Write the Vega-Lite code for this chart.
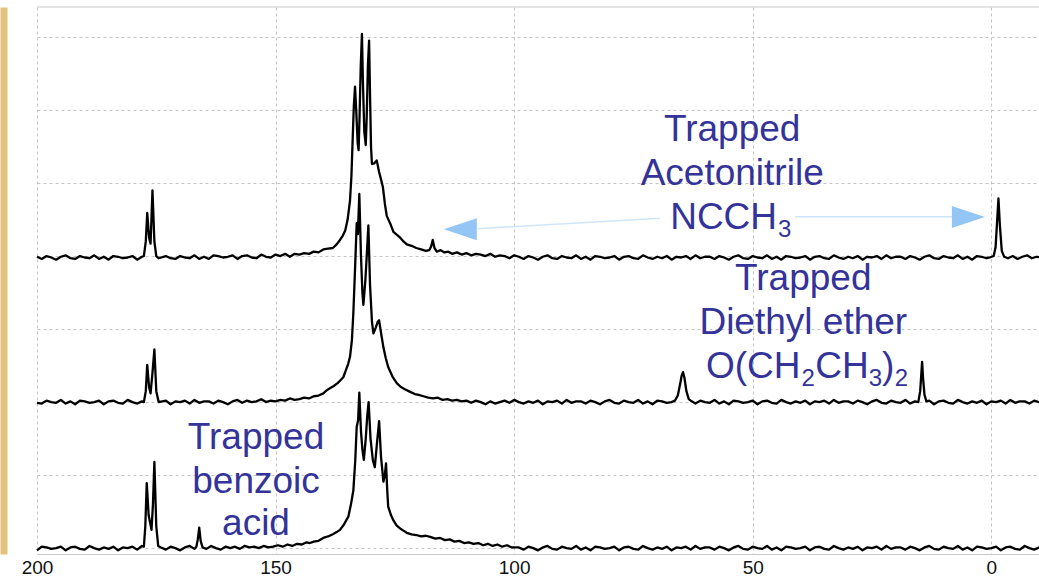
{
  "$schema": "https://vega.github.io/schema/vega-lite/v6.json",
  "width": 1002,
  "height": 547,
  "autosize": {"type": "none"},
  "padding": {"left": 37, "top": 7, "right": 0, "bottom": 23},
  "background": "white",
  "config": {"view": {"stroke": null}},
  "resolve": {"axis": {"y": "independent"}},
  "datasets": {
    "spec": [
      {"s":"T","ppm":200,"v":3.99},{"s":"T","ppm":199,"v":3.96},{"s":"T","ppm":198,"v":4.00},{"s":"T","ppm":197,"v":3.98},{"s":"T","ppm":196,"v":3.95},{"s":"T","ppm":195,"v":3.99},{"s":"T","ppm":194,"v":4.01},{"s":"T","ppm":193,"v":3.97},{"s":"T","ppm":192,"v":3.96},{"s":"T","ppm":191,"v":4.00},{"s":"T","ppm":190,"v":3.98},{"s":"T","ppm":189,"v":3.97},{"s":"T","ppm":188,"v":4.01},{"s":"T","ppm":187,"v":3.96},{"s":"T","ppm":186,"v":3.99},{"s":"T","ppm":185,"v":3.95},{"s":"T","ppm":184,"v":4.00},{"s":"T","ppm":183,"v":3.99},{"s":"T","ppm":182,"v":3.97},{"s":"T","ppm":181,"v":3.98},{"s":"T","ppm":180,"v":4.00},{"s":"T","ppm":179,"v":3.95},{"s":"T","ppm":178,"v":3.99},
      {"s":"T","ppm":177.6,"v":4.0},{"s":"T","ppm":177.2,"v":4.2},{"s":"T","ppm":176.9,"v":4.59},{"s":"T","ppm":176.5,"v":4.25},{"s":"T","ppm":176.2,"v":4.17},{"s":"T","ppm":175.8,"v":4.9},{"s":"T","ppm":175.4,"v":4.2},{"s":"T","ppm":175.0,"v":4.0},{"s":"T","ppm":174.5,"v":3.97},
      {"s":"T","ppm":173,"v":4.00},{"s":"T","ppm":172,"v":3.97},{"s":"T","ppm":171,"v":3.96},{"s":"T","ppm":170,"v":4.00},{"s":"T","ppm":169,"v":3.98},{"s":"T","ppm":168,"v":3.97},{"s":"T","ppm":167,"v":4.01},{"s":"T","ppm":166,"v":3.96},{"s":"T","ppm":165,"v":3.99},{"s":"T","ppm":164,"v":3.96},{"s":"T","ppm":163,"v":4.01},{"s":"T","ppm":162,"v":4.00},{"s":"T","ppm":161,"v":3.98},{"s":"T","ppm":160,"v":3.99},{"s":"T","ppm":159,"v":4.01},{"s":"T","ppm":158,"v":3.96},{"s":"T","ppm":157,"v":4.00},{"s":"T","ppm":156,"v":4.01},{"s":"T","ppm":155,"v":3.98},{"s":"T","ppm":154,"v":3.97},{"s":"T","ppm":153,"v":4.02},{"s":"T","ppm":152,"v":3.99},{"s":"T","ppm":151,"v":3.98},{"s":"T","ppm":150,"v":4.02},{"s":"T","ppm":149,"v":4.00},{"s":"T","ppm":148,"v":4.03},{"s":"T","ppm":147,"v":3.99},{"s":"T","ppm":146,"v":4.03},{"s":"T","ppm":145,"v":4.02},{"s":"T","ppm":144,"v":4.04},{"s":"T","ppm":143,"v":4.03},{"s":"T","ppm":142,"v":4.06},{"s":"T","ppm":141,"v":4.05},{"s":"T","ppm":140,"v":4.09},{"s":"T","ppm":139,"v":4.10},{"s":"T","ppm":138,"v":4.11},{"s":"T","ppm":137.2,"v":4.16},{"s":"T","ppm":136.5,"v":4.22},{"s":"T","ppm":135.9,"v":4.28},{"s":"T","ppm":135.4,"v":4.35},{"s":"T","ppm":134.9,"v":4.5},{"s":"T","ppm":134.4,"v":4.76},{"s":"T","ppm":134.1,"v":5.1},{"s":"T","ppm":133.8,"v":5.68},{"s":"T","ppm":133.6,"v":6.05},{"s":"T","ppm":133.35,"v":6.32},{"s":"T","ppm":133.1,"v":6.0},{"s":"T","ppm":132.8,"v":5.55},{"s":"T","ppm":132.6,"v":5.45},{"s":"T","ppm":132.4,"v":5.9},{"s":"T","ppm":132.15,"v":6.6},{"s":"T","ppm":131.9,"v":7.04},{"s":"T","ppm":131.7,"v":6.4},{"s":"T","ppm":131.4,"v":5.7},{"s":"T","ppm":131.1,"v":5.52},{"s":"T","ppm":130.9,"v":5.9},{"s":"T","ppm":130.65,"v":6.6},{"s":"T","ppm":130.4,"v":6.95},{"s":"T","ppm":130.2,"v":6.2},{"s":"T","ppm":130.0,"v":5.5},{"s":"T","ppm":129.8,"v":5.26},{"s":"T","ppm":129.3,"v":5.27},{"s":"T","ppm":128.8,"v":5.31},{"s":"T","ppm":128.3,"v":5.15},{"s":"T","ppm":127.9,"v":5.05},{"s":"T","ppm":127.5,"v":4.94},{"s":"T","ppm":127.1,"v":4.72},{"s":"T","ppm":126.7,"v":4.55},{"s":"T","ppm":126.0,"v":4.45},{"s":"T","ppm":125.3,"v":4.33},{"s":"T","ppm":124.0,"v":4.26},{"s":"T","ppm":123.2,"v":4.20},{"s":"T","ppm":122.5,"v":4.16},{"s":"T","ppm":121.5,"v":4.14},{"s":"T","ppm":120.5,"v":4.11},{"s":"T","ppm":119.5,"v":4.09},{"s":"T","ppm":118.5,"v":4.07},{"s":"T","ppm":117.8,"v":4.08},{"s":"T","ppm":117.4,"v":4.13},{"s":"T","ppm":117.06,"v":4.22},{"s":"T","ppm":116.7,"v":4.11},{"s":"T","ppm":116.2,"v":4.06},{"s":"T","ppm":115.4,"v":4.08},{"s":"T","ppm":114.6,"v":4.05},{"s":"T","ppm":113.8,"v":4.06},{"s":"T","ppm":113,"v":4.03},{"s":"T","ppm":112,"v":4.05},{"s":"T","ppm":111,"v":4.02},{"s":"T","ppm":110,"v":4.04},{"s":"T","ppm":109,"v":4.01},{"s":"T","ppm":108,"v":4.03},{"s":"T","ppm":107,"v":4.02},{"s":"T","ppm":106,"v":4.00},{"s":"T","ppm":105,"v":4.03},{"s":"T","ppm":104,"v":3.99},{"s":"T","ppm":103,"v":4.01},{"s":"T","ppm":102,"v":4.00},{"s":"T","ppm":101,"v":3.97},{"s":"T","ppm":100,"v":4.01},
      {"s":"T","ppm":99,"v":3.99},{"s":"T","ppm":98,"v":3.96},{"s":"T","ppm":97,"v":4.00},{"s":"T","ppm":96,"v":3.98},{"s":"T","ppm":95,"v":3.95},{"s":"T","ppm":94,"v":3.99},{"s":"T","ppm":93,"v":4.01},{"s":"T","ppm":92,"v":3.97},{"s":"T","ppm":91,"v":3.96},{"s":"T","ppm":90,"v":4.00},{"s":"T","ppm":89,"v":3.98},{"s":"T","ppm":88,"v":3.97},{"s":"T","ppm":87,"v":4.01},{"s":"T","ppm":86,"v":3.96},{"s":"T","ppm":85,"v":3.99},{"s":"T","ppm":84,"v":3.95},{"s":"T","ppm":83,"v":4.00},{"s":"T","ppm":82,"v":3.99},{"s":"T","ppm":81,"v":3.97},{"s":"T","ppm":80,"v":3.98},{"s":"T","ppm":79,"v":4.00},{"s":"T","ppm":78,"v":3.95},{"s":"T","ppm":77,"v":3.99},{"s":"T","ppm":76,"v":4.00},{"s":"T","ppm":75,"v":3.97},{"s":"T","ppm":74,"v":3.96},{"s":"T","ppm":73,"v":4.01},{"s":"T","ppm":72,"v":3.98},{"s":"T","ppm":71,"v":3.96},{"s":"T","ppm":70,"v":3.99},{"s":"T","ppm":69,"v":3.97},{"s":"T","ppm":68,"v":4.00},{"s":"T","ppm":67,"v":3.95},{"s":"T","ppm":66,"v":3.99},{"s":"T","ppm":65,"v":3.98},{"s":"T","ppm":64,"v":4.00},{"s":"T","ppm":63,"v":3.96},{"s":"T","ppm":62,"v":4.01},{"s":"T","ppm":61,"v":3.97},{"s":"T","ppm":60,"v":3.99},{"s":"T","ppm":59,"v":3.99},{"s":"T","ppm":58,"v":3.96},{"s":"T","ppm":57,"v":4.00},{"s":"T","ppm":56,"v":3.98},{"s":"T","ppm":55,"v":3.95},{"s":"T","ppm":54,"v":3.99},{"s":"T","ppm":53,"v":4.01},{"s":"T","ppm":52,"v":3.97},{"s":"T","ppm":51,"v":3.96},{"s":"T","ppm":50,"v":4.00},{"s":"T","ppm":49,"v":3.98},{"s":"T","ppm":48,"v":3.97},{"s":"T","ppm":47,"v":4.01},{"s":"T","ppm":46,"v":3.96},{"s":"T","ppm":45,"v":3.99},{"s":"T","ppm":44,"v":3.95},{"s":"T","ppm":43,"v":4.00},{"s":"T","ppm":42,"v":3.99},{"s":"T","ppm":41,"v":3.97},{"s":"T","ppm":40,"v":3.98},{"s":"T","ppm":39,"v":4.00},{"s":"T","ppm":38,"v":3.95},{"s":"T","ppm":37,"v":3.99},{"s":"T","ppm":36,"v":4.00},{"s":"T","ppm":35,"v":3.97},{"s":"T","ppm":34,"v":3.96},{"s":"T","ppm":33,"v":4.01},{"s":"T","ppm":32,"v":3.98},{"s":"T","ppm":31,"v":3.96},{"s":"T","ppm":30,"v":3.99},{"s":"T","ppm":29,"v":3.97},{"s":"T","ppm":28,"v":4.00},{"s":"T","ppm":27,"v":3.95},{"s":"T","ppm":26,"v":3.99},{"s":"T","ppm":25,"v":3.98},{"s":"T","ppm":24,"v":4.00},{"s":"T","ppm":23,"v":3.96},{"s":"T","ppm":22,"v":4.01},{"s":"T","ppm":21,"v":3.97},{"s":"T","ppm":20,"v":3.99},{"s":"T","ppm":19,"v":3.99},{"s":"T","ppm":18,"v":3.96},{"s":"T","ppm":17,"v":4.00},{"s":"T","ppm":16,"v":3.98},{"s":"T","ppm":15,"v":3.95},{"s":"T","ppm":14,"v":3.99},{"s":"T","ppm":13,"v":4.01},{"s":"T","ppm":12,"v":3.97},{"s":"T","ppm":11,"v":3.96},{"s":"T","ppm":10,"v":4.00},{"s":"T","ppm":9,"v":3.98},{"s":"T","ppm":8,"v":3.97},{"s":"T","ppm":7,"v":4.01},{"s":"T","ppm":6,"v":3.96},{"s":"T","ppm":5,"v":3.99},{"s":"T","ppm":4,"v":3.95},{"s":"T","ppm":3,"v":4.00},{"s":"T","ppm":2,"v":3.99},{"s":"T","ppm":1,"v":3.97},{"s":"T","ppm":0.3,"v":3.98},{"s":"T","ppm":-0.5,"v":4.00},{"s":"T","ppm":-0.9,"v":4.12},{"s":"T","ppm":-1.2,"v":4.45},{"s":"T","ppm":-1.5,"v":4.79},{"s":"T","ppm":-1.8,"v":4.42},{"s":"T","ppm":-2.2,"v":4.07},{"s":"T","ppm":-2.7,"v":3.99},{"s":"T","ppm":-3.5,"v":3.97},{"s":"T","ppm":-4.5,"v":4.00},{"s":"T","ppm":-5.5,"v":3.96},{"s":"T","ppm":-6.5,"v":3.99},{"s":"T","ppm":-7.5,"v":4.01},{"s":"T","ppm":-8.5,"v":3.97},{"s":"T","ppm":-9.5,"v":3.99},{"s":"T","ppm":-10.5,"v":3.98},

      {"s":"M","ppm":200,"v":1.99},{"s":"M","ppm":199,"v":1.98},{"s":"M","ppm":198,"v":2.02},{"s":"M","ppm":197,"v":2.00},{"s":"M","ppm":196,"v":1.99},{"s":"M","ppm":195,"v":2.03},{"s":"M","ppm":194,"v":1.98},{"s":"M","ppm":193,"v":2.01},{"s":"M","ppm":192,"v":1.97},{"s":"M","ppm":191,"v":2.02},{"s":"M","ppm":190,"v":2.01},{"s":"M","ppm":189,"v":1.99},{"s":"M","ppm":188,"v":2.00},{"s":"M","ppm":187,"v":2.02},{"s":"M","ppm":186,"v":1.97},{"s":"M","ppm":185,"v":2.01},{"s":"M","ppm":184,"v":2.02},{"s":"M","ppm":183,"v":1.99},{"s":"M","ppm":182,"v":1.98},{"s":"M","ppm":181,"v":2.03},{"s":"M","ppm":180,"v":2.00},{"s":"M","ppm":179,"v":1.98},{"s":"M","ppm":178,"v":2.01},
      {"s":"M","ppm":177.6,"v":2.0},{"s":"M","ppm":177.2,"v":2.15},{"s":"M","ppm":176.9,"v":2.51},{"s":"M","ppm":176.5,"v":2.2},{"s":"M","ppm":176.2,"v":2.12},{"s":"M","ppm":175.8,"v":2.4},{"s":"M","ppm":175.4,"v":2.72},{"s":"M","ppm":175.0,"v":2.15},{"s":"M","ppm":174.5,"v":2.0},
      {"s":"M","ppm":173,"v":2.02},{"s":"M","ppm":172,"v":1.97},{"s":"M","ppm":171,"v":2.01},{"s":"M","ppm":170,"v":2.00},{"s":"M","ppm":169,"v":2.02},{"s":"M","ppm":168,"v":1.98},{"s":"M","ppm":167,"v":2.03},{"s":"M","ppm":166,"v":1.99},{"s":"M","ppm":165,"v":2.01},{"s":"M","ppm":164,"v":2.01},{"s":"M","ppm":163,"v":1.98},{"s":"M","ppm":162,"v":2.02},{"s":"M","ppm":161,"v":2.00},{"s":"M","ppm":160,"v":1.97},{"s":"M","ppm":159,"v":2.01},{"s":"M","ppm":158,"v":2.03},{"s":"M","ppm":157,"v":1.99},{"s":"M","ppm":156,"v":2.02},{"s":"M","ppm":155,"v":2.00},{"s":"M","ppm":154,"v":2.01},{"s":"M","ppm":153,"v":2.04},{"s":"M","ppm":152,"v":2.00},{"s":"M","ppm":151,"v":2.02},{"s":"M","ppm":150,"v":2.01},{"s":"M","ppm":149,"v":2.03},{"s":"M","ppm":148,"v":2.02},{"s":"M","ppm":147,"v":2.05},{"s":"M","ppm":146,"v":2.03},{"s":"M","ppm":145,"v":2.04},{"s":"M","ppm":144,"v":2.06},{"s":"M","ppm":143,"v":2.05},{"s":"M","ppm":142,"v":2.08},{"s":"M","ppm":141,"v":2.09},{"s":"M","ppm":140,"v":2.12},{"s":"M","ppm":139.3,"v":2.16},{"s":"M","ppm":138.6,"v":2.19},{"s":"M","ppm":137.8,"v":2.22},{"s":"M","ppm":137,"v":2.26},{"s":"M","ppm":136.4,"v":2.30},{"s":"M","ppm":135.8,"v":2.34},{"s":"M","ppm":135.3,"v":2.43},{"s":"M","ppm":134.8,"v":2.52},{"s":"M","ppm":134.4,"v":2.62},{"s":"M","ppm":134.0,"v":2.85},{"s":"M","ppm":133.7,"v":3.22},{"s":"M","ppm":133.3,"v":3.9},{"s":"M","ppm":133.0,"v":4.45},{"s":"M","ppm":132.75,"v":4.3},{"s":"M","ppm":132.45,"v":4.85},{"s":"M","ppm":132.1,"v":4.0},{"s":"M","ppm":131.8,"v":3.5},{"s":"M","ppm":131.6,"v":3.33},{"s":"M","ppm":131.2,"v":3.65},{"s":"M","ppm":130.85,"v":4.05},{"s":"M","ppm":130.55,"v":4.42},{"s":"M","ppm":130.2,"v":3.6},{"s":"M","ppm":129.8,"v":3.1},{"s":"M","ppm":129.5,"v":2.94},{"s":"M","ppm":129.0,"v":3.02},{"s":"M","ppm":128.6,"v":3.1},{"s":"M","ppm":128.3,"v":3.12},{"s":"M","ppm":127.9,"v":2.95},{"s":"M","ppm":127.4,"v":2.75},{"s":"M","ppm":126.9,"v":2.6},{"s":"M","ppm":126.4,"v":2.48},{"s":"M","ppm":125.5,"v":2.35},{"s":"M","ppm":124.6,"v":2.26},{"s":"M","ppm":123.8,"v":2.21},{"s":"M","ppm":123,"v":2.18},{"s":"M","ppm":121.8,"v":2.14},{"s":"M","ppm":120.8,"v":2.11},{"s":"M","ppm":120,"v":2.10},{"s":"M","ppm":119,"v":2.08},{"s":"M","ppm":118,"v":2.06},{"s":"M","ppm":117,"v":2.05},{"s":"M","ppm":116,"v":2.06},{"s":"M","ppm":115,"v":2.03},{"s":"M","ppm":114,"v":2.04},{"s":"M","ppm":113,"v":2.02},{"s":"M","ppm":112,"v":2.03},{"s":"M","ppm":111,"v":2.01},{"s":"M","ppm":110,"v":2.02},
      {"s":"M","ppm":109,"v":1.99},{"s":"M","ppm":108,"v":2.02},{"s":"M","ppm":107,"v":2.00},{"s":"M","ppm":106,"v":1.97},{"s":"M","ppm":105,"v":2.01},{"s":"M","ppm":104,"v":1.98},{"s":"M","ppm":103,"v":2.00},{"s":"M","ppm":102,"v":2.02},{"s":"M","ppm":101,"v":1.99},{"s":"M","ppm":100,"v":2.03},{"s":"M","ppm":99,"v":2.00},{"s":"M","ppm":98,"v":1.98},{"s":"M","ppm":97,"v":2.01},{"s":"M","ppm":96,"v":1.99},{"s":"M","ppm":95,"v":2.02},{"s":"M","ppm":94,"v":1.97},{"s":"M","ppm":93,"v":2.01},{"s":"M","ppm":92,"v":2.00},{"s":"M","ppm":91,"v":2.02},{"s":"M","ppm":90,"v":1.98},{"s":"M","ppm":89,"v":2.03},{"s":"M","ppm":88,"v":1.99},{"s":"M","ppm":87,"v":2.01},{"s":"M","ppm":86,"v":2.01},{"s":"M","ppm":85,"v":1.98},{"s":"M","ppm":84,"v":2.02},{"s":"M","ppm":83,"v":2.00},{"s":"M","ppm":82,"v":1.97},{"s":"M","ppm":81,"v":2.01},{"s":"M","ppm":80,"v":2.03},{"s":"M","ppm":79,"v":1.99},{"s":"M","ppm":78,"v":1.98},{"s":"M","ppm":77,"v":2.02},{"s":"M","ppm":76,"v":2.00},{"s":"M","ppm":75,"v":1.99},{"s":"M","ppm":74,"v":2.03},{"s":"M","ppm":73,"v":1.98},{"s":"M","ppm":72,"v":2.01},{"s":"M","ppm":71,"v":1.97},{"s":"M","ppm":70,"v":2.02},{"s":"M","ppm":69,"v":2.01},{"s":"M","ppm":68,"v":1.99},{"s":"M","ppm":67,"v":2.00},
      {"s":"M","ppm":66.3,"v":2.02},{"s":"M","ppm":65.7,"v":2.09},{"s":"M","ppm":65.2,"v":2.25},{"s":"M","ppm":64.9,"v":2.36},{"s":"M","ppm":64.6,"v":2.41},{"s":"M","ppm":64.3,"v":2.33},{"s":"M","ppm":63.9,"v":2.15},{"s":"M","ppm":63.4,"v":2.04},{"s":"M","ppm":62.8,"v":2.01},
      {"s":"M","ppm":62,"v":1.98},{"s":"M","ppm":61,"v":2.02},{"s":"M","ppm":60,"v":2.00},{"s":"M","ppm":59,"v":1.99},{"s":"M","ppm":58,"v":2.03},{"s":"M","ppm":57,"v":1.98},{"s":"M","ppm":56,"v":2.01},{"s":"M","ppm":55,"v":1.97},{"s":"M","ppm":54,"v":2.02},{"s":"M","ppm":53,"v":2.01},{"s":"M","ppm":52,"v":1.99},{"s":"M","ppm":51,"v":2.00},{"s":"M","ppm":50,"v":2.02},{"s":"M","ppm":49,"v":1.97},{"s":"M","ppm":48,"v":2.01},{"s":"M","ppm":47,"v":2.02},{"s":"M","ppm":46,"v":1.99},{"s":"M","ppm":45,"v":1.98},{"s":"M","ppm":44,"v":2.03},{"s":"M","ppm":43,"v":2.00},{"s":"M","ppm":42,"v":1.98},{"s":"M","ppm":41,"v":2.01},{"s":"M","ppm":40,"v":1.99},{"s":"M","ppm":39,"v":2.02},{"s":"M","ppm":38,"v":1.97},{"s":"M","ppm":37,"v":2.01},{"s":"M","ppm":36,"v":2.00},{"s":"M","ppm":35,"v":2.02},{"s":"M","ppm":34,"v":1.98},{"s":"M","ppm":33,"v":2.03},{"s":"M","ppm":32,"v":1.99},{"s":"M","ppm":31,"v":2.01},{"s":"M","ppm":30,"v":2.01},{"s":"M","ppm":29,"v":1.98},{"s":"M","ppm":28,"v":2.02},{"s":"M","ppm":27,"v":2.00},{"s":"M","ppm":26,"v":1.97},{"s":"M","ppm":25,"v":2.01},{"s":"M","ppm":24,"v":2.03},{"s":"M","ppm":23,"v":1.99},{"s":"M","ppm":22,"v":1.98},{"s":"M","ppm":21,"v":2.02},{"s":"M","ppm":20,"v":2.00},{"s":"M","ppm":19,"v":1.99},{"s":"M","ppm":18,"v":2.03},{"s":"M","ppm":17,"v":1.98},{"s":"M","ppm":16,"v":2.01},{"s":"M","ppm":15.3,"v":2.00},
      {"s":"M","ppm":14.9,"v":2.15},{"s":"M","ppm":14.7,"v":2.35},{"s":"M","ppm":14.5,"v":2.55},{"s":"M","ppm":14.3,"v":2.33},{"s":"M","ppm":14.0,"v":2.1},{"s":"M","ppm":13.6,"v":2.01},
      {"s":"M","ppm":13,"v":2.02},{"s":"M","ppm":12,"v":1.97},{"s":"M","ppm":11,"v":2.01},{"s":"M","ppm":10,"v":2.02},{"s":"M","ppm":9,"v":1.99},{"s":"M","ppm":8,"v":1.98},{"s":"M","ppm":7,"v":2.03},{"s":"M","ppm":6,"v":2.00},{"s":"M","ppm":5,"v":1.98},{"s":"M","ppm":4,"v":2.01},{"s":"M","ppm":3,"v":1.99},{"s":"M","ppm":2,"v":2.02},{"s":"M","ppm":1,"v":1.97},{"s":"M","ppm":0,"v":2.01},{"s":"M","ppm":-1,"v":2.00},{"s":"M","ppm":-2,"v":2.02},{"s":"M","ppm":-3,"v":1.98},{"s":"M","ppm":-4,"v":2.03},{"s":"M","ppm":-5,"v":1.99},{"s":"M","ppm":-6,"v":2.01},{"s":"M","ppm":-7,"v":2.01},{"s":"M","ppm":-8,"v":1.98},{"s":"M","ppm":-9,"v":2.02},{"s":"M","ppm":-10,"v":2.00},{"s":"M","ppm":-10.5,"v":1.99},

      {"s":"B","ppm":200,"v":-0.03},{"s":"B","ppm":199,"v":0.02},{"s":"B","ppm":198,"v":0.01},{"s":"B","ppm":197,"v":-0.01},{"s":"B","ppm":196,"v":0.00},{"s":"B","ppm":195,"v":0.02},{"s":"B","ppm":194,"v":-0.03},{"s":"B","ppm":193,"v":0.01},{"s":"B","ppm":192,"v":0.02},{"s":"B","ppm":191,"v":-0.01},{"s":"B","ppm":190,"v":-0.02},{"s":"B","ppm":189,"v":0.03},{"s":"B","ppm":188,"v":0.00},{"s":"B","ppm":187,"v":-0.02},{"s":"B","ppm":186,"v":0.01},{"s":"B","ppm":185,"v":-0.01},{"s":"B","ppm":184,"v":0.02},{"s":"B","ppm":183,"v":-0.03},{"s":"B","ppm":182,"v":0.01},{"s":"B","ppm":181,"v":0.00},{"s":"B","ppm":180,"v":0.02},{"s":"B","ppm":179,"v":-0.02},{"s":"B","ppm":178,"v":0.03},
      {"s":"B","ppm":177.6,"v":0.02},{"s":"B","ppm":177.3,"v":0.3},{"s":"B","ppm":177.0,"v":0.89},{"s":"B","ppm":176.6,"v":0.45},{"s":"B","ppm":176.0,"v":0.25},{"s":"B","ppm":175.7,"v":0.6},{"s":"B","ppm":175.4,"v":1.18},{"s":"B","ppm":175.0,"v":0.3},{"s":"B","ppm":174.6,"v":0.03},
      {"s":"B","ppm":174,"v":0.01},{"s":"B","ppm":173,"v":-0.02},{"s":"B","ppm":172,"v":0.02},{"s":"B","ppm":171,"v":0.00},{"s":"B","ppm":170,"v":-0.03},{"s":"B","ppm":169,"v":0.01},{"s":"B","ppm":168,"v":0.03},{"s":"B","ppm":167,"v":-0.01},{"s":"B","ppm":166.6,"v":0.02},{"s":"B","ppm":166.3,"v":0.12},{"s":"B","ppm":166.0,"v":0.28},{"s":"B","ppm":165.7,"v":0.1},{"s":"B","ppm":165.3,"v":0.01},{"s":"B","ppm":164.5,"v":-0.01},{"s":"B","ppm":163.5,"v":0.03},{"s":"B","ppm":162.5,"v":0.00},{"s":"B","ppm":161.5,"v":-0.02},{"s":"B","ppm":160.5,"v":0.02},{"s":"B","ppm":159.5,"v":0.00},{"s":"B","ppm":158.5,"v":0.02},{"s":"B","ppm":157.5,"v":-0.01},{"s":"B","ppm":156.5,"v":0.03},{"s":"B","ppm":155.5,"v":0.01},{"s":"B","ppm":154.5,"v":0.02},{"s":"B","ppm":153.5,"v":0.00},{"s":"B","ppm":152.5,"v":0.03},{"s":"B","ppm":151.5,"v":0.01},{"s":"B","ppm":150.5,"v":0.02},{"s":"B","ppm":149.5,"v":0.04},{"s":"B","ppm":148.5,"v":0.02},{"s":"B","ppm":147.5,"v":0.05},{"s":"B","ppm":146.5,"v":0.03},{"s":"B","ppm":145.5,"v":0.06},{"s":"B","ppm":144.5,"v":0.05},{"s":"B","ppm":143.5,"v":0.08},{"s":"B","ppm":142.8,"v":0.07},{"s":"B","ppm":142,"v":0.09},{"s":"B","ppm":141,"v":0.10},{"s":"B","ppm":140,"v":0.14},{"s":"B","ppm":139,"v":0.16},{"s":"B","ppm":138,"v":0.19},{"s":"B","ppm":137.2,"v":0.22},{"s":"B","ppm":136.5,"v":0.25},{"s":"B","ppm":135.7,"v":0.32},{"s":"B","ppm":135.2,"v":0.38},{"s":"B","ppm":134.75,"v":0.43},{"s":"B","ppm":134.2,"v":0.6},{"s":"B","ppm":133.7,"v":0.79},{"s":"B","ppm":133.3,"v":1.2},{"s":"B","ppm":133.0,"v":1.66},{"s":"B","ppm":132.7,"v":1.75},{"s":"B","ppm":132.45,"v":2.13},{"s":"B","ppm":132.1,"v":1.6},{"s":"B","ppm":131.8,"v":1.35},{"s":"B","ppm":131.5,"v":1.21},{"s":"B","ppm":131.1,"v":1.5},{"s":"B","ppm":130.8,"v":1.8},{"s":"B","ppm":130.5,"v":2.0},{"s":"B","ppm":130.1,"v":1.5},{"s":"B","ppm":129.6,"v":1.2},{"s":"B","ppm":129.2,"v":1.11},{"s":"B","ppm":128.8,"v":1.4},{"s":"B","ppm":128.3,"v":1.74},{"s":"B","ppm":127.9,"v":1.25},{"s":"B","ppm":127.4,"v":0.91},{"s":"B","ppm":127.1,"v":1.0},{"s":"B","ppm":126.85,"v":1.16},{"s":"B","ppm":126.6,"v":0.8},{"s":"B","ppm":126.4,"v":0.57},{"s":"B","ppm":125.8,"v":0.45},{"s":"B","ppm":125.3,"v":0.38},{"s":"B","ppm":124.6,"v":0.31},{"s":"B","ppm":123.9,"v":0.27},{"s":"B","ppm":123.2,"v":0.24},{"s":"B","ppm":122.5,"v":0.21},{"s":"B","ppm":121.5,"v":0.19},{"s":"B","ppm":120.5,"v":0.18},{"s":"B","ppm":119.5,"v":0.16},{"s":"B","ppm":118.5,"v":0.17},{"s":"B","ppm":117.6,"v":0.155},{"s":"B","ppm":116.5,"v":0.13},{"s":"B","ppm":115.5,"v":0.14},{"s":"B","ppm":114.5,"v":0.11},{"s":"B","ppm":113.5,"v":0.12},{"s":"B","ppm":112.5,"v":0.09},{"s":"B","ppm":111.5,"v":0.10},{"s":"B","ppm":110.5,"v":0.07},{"s":"B","ppm":109.5,"v":0.08},{"s":"B","ppm":108.5,"v":0.06},{"s":"B","ppm":107.5,"v":0.07},{"s":"B","ppm":106.5,"v":0.04},{"s":"B","ppm":105.5,"v":0.06},{"s":"B","ppm":104.5,"v":0.03},{"s":"B","ppm":103.5,"v":0.05},{"s":"B","ppm":102.5,"v":0.02},{"s":"B","ppm":101.5,"v":0.04},{"s":"B","ppm":100.5,"v":0.01},
      {"s":"B","ppm":99,"v":0.01},{"s":"B","ppm":98,"v":-0.02},{"s":"B","ppm":97,"v":0.02},{"s":"B","ppm":96,"v":0.00},{"s":"B","ppm":95,"v":-0.03},{"s":"B","ppm":94,"v":0.01},{"s":"B","ppm":93,"v":0.03},{"s":"B","ppm":92,"v":-0.01},{"s":"B","ppm":91,"v":-0.02},{"s":"B","ppm":90,"v":0.02},{"s":"B","ppm":89,"v":0.00},{"s":"B","ppm":88,"v":-0.01},{"s":"B","ppm":87,"v":0.03},{"s":"B","ppm":86,"v":-0.02},{"s":"B","ppm":85,"v":0.01},{"s":"B","ppm":84,"v":-0.03},{"s":"B","ppm":83,"v":0.02},{"s":"B","ppm":82,"v":0.01},{"s":"B","ppm":81,"v":-0.01},{"s":"B","ppm":80,"v":0.00},{"s":"B","ppm":79,"v":0.02},{"s":"B","ppm":78,"v":-0.03},{"s":"B","ppm":77,"v":0.01},{"s":"B","ppm":76,"v":0.02},{"s":"B","ppm":75,"v":-0.01},{"s":"B","ppm":74,"v":-0.02},{"s":"B","ppm":73,"v":0.03},{"s":"B","ppm":72,"v":0.00},{"s":"B","ppm":71,"v":-0.02},{"s":"B","ppm":70,"v":0.01},{"s":"B","ppm":69,"v":-0.01},{"s":"B","ppm":68,"v":0.02},{"s":"B","ppm":67,"v":-0.03},{"s":"B","ppm":66,"v":0.01},{"s":"B","ppm":65,"v":0.00},{"s":"B","ppm":64,"v":0.02},{"s":"B","ppm":63,"v":-0.02},{"s":"B","ppm":62,"v":0.03},{"s":"B","ppm":61,"v":-0.01},{"s":"B","ppm":60,"v":0.01},{"s":"B","ppm":59,"v":0.01},{"s":"B","ppm":58,"v":-0.02},{"s":"B","ppm":57,"v":0.02},{"s":"B","ppm":56,"v":0.00},{"s":"B","ppm":55,"v":-0.03},{"s":"B","ppm":54,"v":0.01},{"s":"B","ppm":53,"v":0.03},{"s":"B","ppm":52,"v":-0.01},{"s":"B","ppm":51,"v":-0.02},{"s":"B","ppm":50,"v":0.02},{"s":"B","ppm":49,"v":0.00},{"s":"B","ppm":48,"v":-0.01},{"s":"B","ppm":47,"v":0.03},{"s":"B","ppm":46,"v":-0.02},{"s":"B","ppm":45,"v":0.01},{"s":"B","ppm":44,"v":-0.03},{"s":"B","ppm":43,"v":0.02},{"s":"B","ppm":42,"v":0.01},{"s":"B","ppm":41,"v":-0.01},{"s":"B","ppm":40,"v":0.00},{"s":"B","ppm":39,"v":0.02},{"s":"B","ppm":38,"v":-0.03},{"s":"B","ppm":37,"v":0.01},{"s":"B","ppm":36,"v":0.02},{"s":"B","ppm":35,"v":-0.01},{"s":"B","ppm":34,"v":-0.02},{"s":"B","ppm":33,"v":0.03},{"s":"B","ppm":32,"v":0.00},{"s":"B","ppm":31,"v":-0.02},{"s":"B","ppm":30,"v":0.01},{"s":"B","ppm":29,"v":-0.01},{"s":"B","ppm":28,"v":0.02},{"s":"B","ppm":27,"v":-0.03},{"s":"B","ppm":26,"v":0.01},{"s":"B","ppm":25,"v":0.00},{"s":"B","ppm":24,"v":0.02},{"s":"B","ppm":23,"v":-0.02},{"s":"B","ppm":22,"v":0.03},{"s":"B","ppm":21,"v":-0.01},{"s":"B","ppm":20,"v":0.01},{"s":"B","ppm":19,"v":0.01},{"s":"B","ppm":18,"v":-0.02},{"s":"B","ppm":17,"v":0.02},{"s":"B","ppm":16,"v":0.00},{"s":"B","ppm":15,"v":-0.03},{"s":"B","ppm":14,"v":0.01},{"s":"B","ppm":13,"v":0.03},{"s":"B","ppm":12,"v":-0.01},{"s":"B","ppm":11,"v":-0.02},{"s":"B","ppm":10,"v":0.02},{"s":"B","ppm":9,"v":0.00},{"s":"B","ppm":8,"v":-0.01},{"s":"B","ppm":7,"v":0.03},{"s":"B","ppm":6,"v":-0.02},{"s":"B","ppm":5,"v":0.01},{"s":"B","ppm":4,"v":-0.03},{"s":"B","ppm":3,"v":0.02},{"s":"B","ppm":2,"v":0.01},{"s":"B","ppm":1,"v":-0.01},{"s":"B","ppm":0,"v":0.00},{"s":"B","ppm":-1,"v":0.02},{"s":"B","ppm":-2,"v":-0.03},{"s":"B","ppm":-3,"v":0.01},{"s":"B","ppm":-4,"v":0.02},{"s":"B","ppm":-5,"v":-0.01},{"s":"B","ppm":-6,"v":-0.02},{"s":"B","ppm":-7,"v":0.03},{"s":"B","ppm":-8,"v":0.00},{"s":"B","ppm":-9,"v":-0.02},{"s":"B","ppm":-10,"v":0.01},{"s":"B","ppm":-10.5,"v":0.00}
    ],
    "arrows": [
      {"a":"L","ppm":107.6,"v":4.374},{"a":"L","ppm":69.4,"v":4.518},
      {"a":"R","ppm":41.1,"v":4.538},{"a":"R","ppm":8.2,"v":4.538}
    ],
    "headL": [{"ppm":111.28,"v":4.367}],
    "headR": [{"ppm":4.8,"v":4.535}],
    "center": [
      {"text":"Trapped","ppm":54.3,"v":5.572},
      {"text":"Acetonitrile","ppm":54.3,"v":4.969},
      {"text":"Trapped","ppm":39.4,"v":3.532},
      {"text":"Diethyl ether","ppm":39.4,"v":2.93},
      {"text":"Trapped","ppm":154.1,"v":1.355},
      {"text":"benzoic","ppm":154.1,"v":0.753},
      {"text":"acid","ppm":154.1,"v":0.178}
    ],
    "leftMain": [
      {"text":"NCCH","ppm":67.3,"v":4.367},
      {"text":"O(CH","ppm":59.8,"v":2.327},
      {"text":"CH","ppm":36.9,"v":2.327},
      {"text":")","ppm":22.9,"v":2.327}
    ],
    "leftSub": [
      {"text":"3","ppm":44.7,"v":4.257},
      {"text":"2","ppm":39.75,"v":2.218},
      {"text":"3","ppm":25.7,"v":2.218},
      {"text":"2","ppm":20.25,"v":2.218}
    ]
  },
  "layer": [
    {
      "data": {"values": [{}]},
      "mark": {"type": "rule", "color": "#c8c8c8", "strokeWidth": 1},
      "encoding": {
        "y": {
          "datum": 7.41, "type": "quantitative",
          "scale": {"domain": [-0.08, 7.41], "nice": false, "zero": false},
          "axis": {
            "orient": "left", "title": null, "values": [0], "labels": false, "ticks": false, "grid": false,
            "domain": true, "domainColor": "#e3c27e", "domainWidth": 7, "offset": 33.5
          }
        }
      }
    },
    {
      "data": {"name": "spec"},
      "mark": {"type": "line", "color": "#000000", "strokeWidth": 2.3, "strokeJoin": "round"},
      "encoding": {
        "x": {
          "field": "ppm", "type": "quantitative",
          "scale": {"domain": [200, -10], "nice": false, "zero": false},
          "axis": {
            "values": [200, 150, 100, 50, 0], "title": null, "grid": true,
            "gridColor": "#c4c4c4", "gridDash": [3, 3], "gridWidth": 1,
            "domain": true, "domainColor": "#c8c8c8", "domainWidth": 1,
            "ticks": false, "tickSize": 0, "labelPadding": 4,
            "labelFont": "Liberation Sans", "labelFontSize": 19, "labelColor": "#111111",
            "labelFlush": false, "labelOverlap": false, "labelBound": false
          }
        },
        "y": {
          "field": "v", "type": "quantitative",
          "scale": {"domain": [-0.08, 7.41], "nice": false, "zero": false},
          "axis": {
            "orient": "left",
            "values": [0, 1, 2, 3, 4, 5, 6, 7], "title": null, "grid": true,
            "gridColor": "#c4c4c4", "gridDash": [3, 3], "gridWidth": 1,
            "labels": false, "ticks": false, "domain": false
          }
        },
        "detail": {"field": "s", "type": "nominal"}
      }
    },
    {
      "data": {"name": "arrows"},
      "mark": {"type": "line", "color": "#cfe5fa", "strokeWidth": 1.5},
      "encoding": {
        "x": {"field": "ppm", "type": "quantitative", "scale": {"domain": [200, -10], "nice": false, "zero": false}},
        "y": {"field": "v", "type": "quantitative", "scale": {"domain": [-0.08, 7.41], "nice": false, "zero": false}, "axis": null},
        "detail": {"field": "a", "type": "nominal"}
      }
    },
    {
      "data": {"name": "headL"},
      "mark": {"type": "point", "shape": "M-1,0L1,-0.67L1,0.67Z", "size": 1089, "filled": true, "color": "#93c6f5", "opacity": 1},
      "encoding": {
        "x": {"field": "ppm", "type": "quantitative", "scale": {"domain": [200, -10], "nice": false, "zero": false}},
        "y": {"field": "v", "type": "quantitative", "scale": {"domain": [-0.08, 7.41], "nice": false, "zero": false}, "axis": null}
      }
    },
    {
      "data": {"name": "headR"},
      "mark": {"type": "point", "shape": "M1,0L-1,-0.67L-1,0.67Z", "size": 1089, "filled": true, "color": "#93c6f5", "opacity": 1},
      "encoding": {
        "x": {"field": "ppm", "type": "quantitative", "scale": {"domain": [200, -10], "nice": false, "zero": false}},
        "y": {"field": "v", "type": "quantitative", "scale": {"domain": [-0.08, 7.41], "nice": false, "zero": false}, "axis": null}
      }
    },
    {
      "data": {"name": "center"},
      "mark": {"type": "text", "align": "center", "baseline": "alphabetic", "font": "Liberation Sans", "fontSize": 37, "color": "#333399"},
      "encoding": {
        "x": {"field": "ppm", "type": "quantitative", "scale": {"domain": [200, -10], "nice": false, "zero": false}},
        "y": {"field": "v", "type": "quantitative", "scale": {"domain": [-0.08, 7.41], "nice": false, "zero": false}, "axis": null},
        "text": {"field": "text"}
      }
    },
    {
      "data": {"name": "leftMain"},
      "mark": {"type": "text", "align": "left", "baseline": "alphabetic", "font": "Liberation Sans", "fontSize": 37, "color": "#333399"},
      "encoding": {
        "x": {"field": "ppm", "type": "quantitative", "scale": {"domain": [200, -10], "nice": false, "zero": false}},
        "y": {"field": "v", "type": "quantitative", "scale": {"domain": [-0.08, 7.41], "nice": false, "zero": false}, "axis": null},
        "text": {"field": "text"}
      }
    },
    {
      "data": {"name": "leftSub"},
      "mark": {"type": "text", "align": "left", "baseline": "alphabetic", "font": "Liberation Sans", "fontSize": 24, "color": "#333399"},
      "encoding": {
        "x": {"field": "ppm", "type": "quantitative", "scale": {"domain": [200, -10], "nice": false, "zero": false}},
        "y": {"field": "v", "type": "quantitative", "scale": {"domain": [-0.08, 7.41], "nice": false, "zero": false}, "axis": null},
        "text": {"field": "text"}
      }
    }
  ]
}
